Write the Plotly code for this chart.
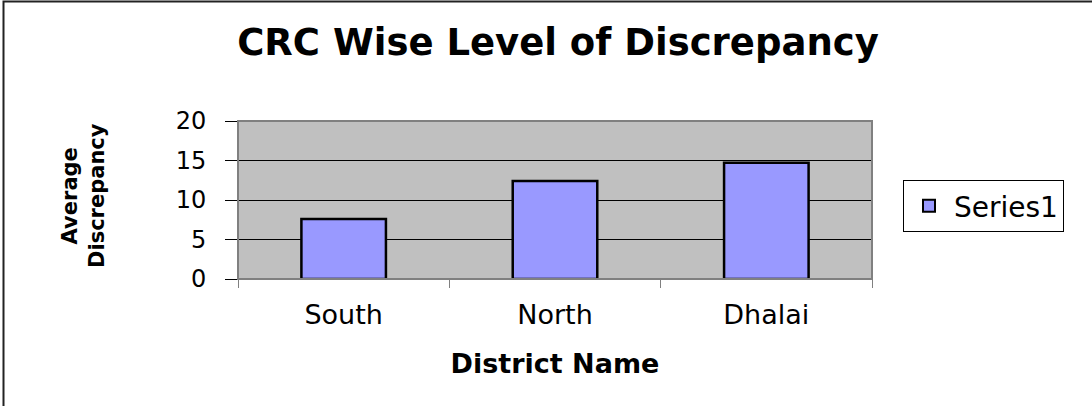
import plotly.graph_objects as go

categories = ["South", "North", "Dhalai"]
values = [7.6, 12.4, 14.7]
y_ticks = [0, 5, 10, 15, 20]
series_name = "Series1"

W, H = 1092, 406
L, R, T, B = 238, 872, 121, 279

fig = go.Figure()
fig.add_trace(go.Bar(
    x=categories, y=values, name=series_name,
    marker=dict(color="#9999FF", line=dict(color="black", width=2.5)),
    showlegend=True,
))

def px_x(p):
    return (p - L) / (R - L)

def px_y(p):
    return (B - p) / (B - T)

FONT = "DejaVu Sans"

fig.update_layout(
    width=W, height=H,
    margin=dict(l=L, r=W - R, t=T, b=H - B, pad=0),
    paper_bgcolor="white",
    plot_bgcolor="#C0C0C0",
    bargap=0.6,
    font=dict(family=FONT, color="black"),
    title=dict(text="<b>CRC Wise Level of Discrepancy</b>", x=558 / W, xanchor="center",
               y=1 - 42 / H, yanchor="middle", font=dict(size=37)),
    xaxis=dict(
        showgrid=False, showline=True, linecolor="black", linewidth=1,
        ticks="outside", tickson="boundaries", ticklen=8, tickcolor="#808080", tickwidth=1,
        tickfont=dict(size=27), ticklabelstandoff=12,
        title=dict(text="<b>District Name</b>", font=dict(size=27), standoff=24),
    ),
    yaxis=dict(
        range=[0, 20], tickvals=y_ticks, showgrid=True, gridcolor="black", gridwidth=1,
        showline=False, zeroline=False,
        ticks="outside", ticklen=12, tickcolor="black", tickwidth=1,
        tickfont=dict(size=24), ticklabelstandoff=14,
    ),
    legend=dict(
        xref="container", yref="container", x=903 / W, y=1 - 180 / H,
        xanchor="left", yanchor="top",
        bordercolor="black", borderwidth=1, bgcolor="white",
        font=dict(size=28), itemwidth=40, itemsizing="constant",
    ),
    shapes=[
        dict(type="rect", xref="paper", yref="paper", x0=0, x1=1, y0=0, y1=1,
             line=dict(color="#808080", width=2), layer="above"),
        dict(type="rect", xref="paper", yref="paper",
             x0=px_x(3.5), x1=px_x(1100), y0=px_y(415), y1=px_y(1.5),
             line=dict(color="#222222", width=2)),
    ],
    annotations=[
        dict(text="<b>Average<br>Discrepancy</b>", xref="paper", yref="paper",
             x=px_x(83), y=px_y(196), textangle=-90, showarrow=False,
             font=dict(size=21), xanchor="center", yanchor="middle", align="center"),
    ],
)

fig.write_html(
    "out.html",
    config={"displayModeBar": False},
    post_script="document.body.style.margin='0';document.body.style.overflow='hidden';",
)
